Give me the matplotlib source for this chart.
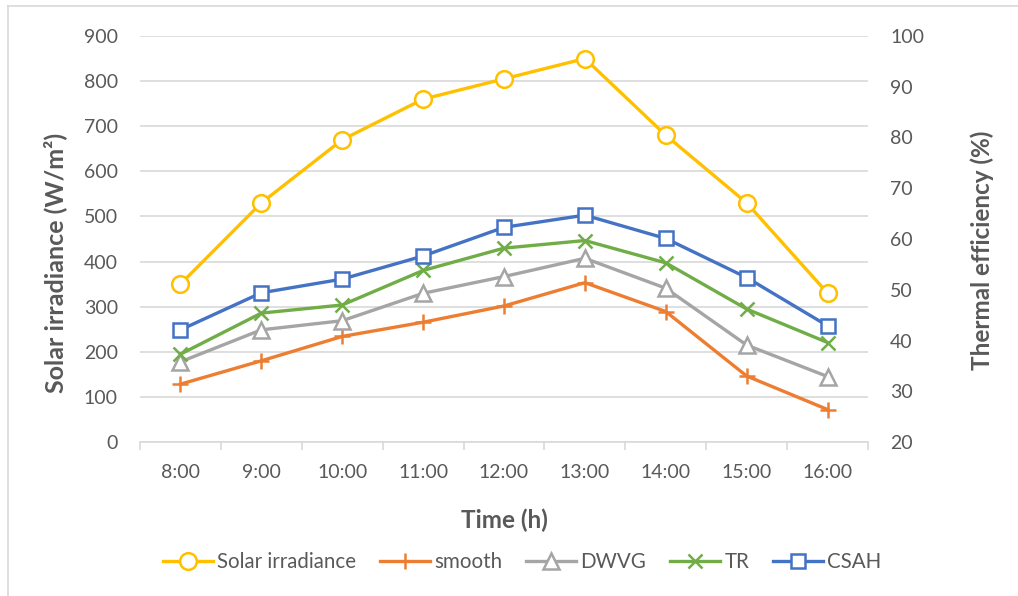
import matplotlib.pyplot as plt
from matplotlib.lines import Line2D

# Hourly measurements
hours = ["8:00", "9:00", "10:00", "11:00", "12:00", "13:00", "14:00", "15:00", "16:00"]
solar = [350, 530, 670, 760, 805, 850, 680, 530, 330]
smooth = [31.4, 36.0, 40.8, 43.6, 46.8, 51.4, 45.7, 33.0, 26.4]
dwvg = [35.8, 42.1, 43.9, 49.3, 52.6, 56.2, 50.3, 39.1, 32.9]
tr = [37.3, 45.4, 47.0, 53.8, 58.2, 59.7, 55.3, 46.2, 39.6]
csah = [42.1, 49.4, 52.1, 56.65, 62.3, 64.7, 60.1, 52.4, 42.9]

plt.rcParams['font.family'] = ['Lato', 'DejaVu Sans']
text_color = "#595959"
grid_color = "#D9D9D9"

fig = plt.figure(figsize=(10.18, 5.96), dpi=100)
ax = fig.add_axes([140/1018, 1 - 442/596, 728/1018, 406/596])
ax2 = ax.twinx()

x = list(range(len(hours)))

# Solar irradiance on the left axis
l1, = ax.plot(x, solar, color="#FFC000", lw=2.4, marker="o", ms=12,
              mfc="white", mec="#FFC000", mew=1.8, label="Solar irradiance")

# Thermal efficiency series on the right axis
l2, = ax2.plot(x, smooth, color="#ED7D31", lw=2.4, marker="+", ms=11,
               mew=1.8, label="smooth")
l3, = ax2.plot(x, dwvg, color="#A5A5A5", lw=2.4, marker="^", ms=11,
               mfc="white", mec="#A5A5A5", mew=1.8, label="DWVG")
l4, = ax2.plot(x, tr, color="#70AD47", lw=2.4, marker="x", ms=10,
               mew=1.8, label="TR")
l5, = ax2.plot(x, csah, color="#4472C4", lw=2.4, marker="s", ms=10,
               mfc="white", mec="#4472C4", mew=1.8, label="CSAH")

ax.set_xlim(-0.5, len(hours) - 0.5)
ax.set_ylim(0, 900)
ax.set_yticks(range(0, 901, 100))
ax2.set_ylim(20, 100)
ax2.set_yticks(range(20, 101, 10))

ax.set_xticks(x)
ax.set_xticklabels(hours)
ax.set_xticks([i - 0.5 for i in range(len(hours) + 1)], minor=True)
ax.tick_params(axis="x", which="major", length=0, pad=16, labelsize=14, labelcolor=text_color)
ax.tick_params(axis="x", which="minor", length=5.5, width=1.2, color=grid_color)
ax.tick_params(axis="y", length=0, pad=16, labelsize=14, labelcolor=text_color)
ax2.tick_params(axis="y", length=0, pad=16, labelsize=14, labelcolor=text_color)

ax.yaxis.grid(True, color=grid_color, lw=1.2)
ax.set_axisbelow(True)

for a in (ax, ax2):
    for side in ("top", "left", "right", "bottom"):
        a.spines[side].set_visible(False)
ax.spines["bottom"].set_visible(True)
ax.spines["bottom"].set_color(grid_color)
ax.spines["bottom"].set_linewidth(1.2)

ax.set_ylabel("Solar irradiance (W/m²)", fontsize=18, fontweight="bold", color=text_color)
ax.yaxis.set_label_coords(-0.100, 0.44)
ax2.set_ylabel("Thermal efficiency (%)", fontsize=17.5, fontweight="bold", color=text_color)
ax2.yaxis.set_label_coords(1.140, 0.473)
ax.set_xlabel("Time (h)", fontsize=17.5, fontweight="bold", color=text_color)
ax.xaxis.set_label_coords(0.5, -0.165)

leg = fig.legend(handles=[l1, l2, l3, l4, l5], loc="center",
                 bbox_to_anchor=(522/1018, 1 - 562/596), ncol=5, frameon=False,
                 fontsize=14.8, handlelength=2.45, columnspacing=1.15, handletextpad=0.2)
for t in leg.get_texts():
    t.set_color(text_color)

# Chart area frame edges
fig.add_artist(Line2D([8/1018, 8/1018], [0, 1 - 6/596], color=grid_color, lw=1.2,
                      transform=fig.transFigure))
fig.add_artist(Line2D([8/1018, 1], [1 - 6/596, 1 - 6/596], color=grid_color, lw=1.2,
                      transform=fig.transFigure))

fig.savefig("out.png", dpi=100)
